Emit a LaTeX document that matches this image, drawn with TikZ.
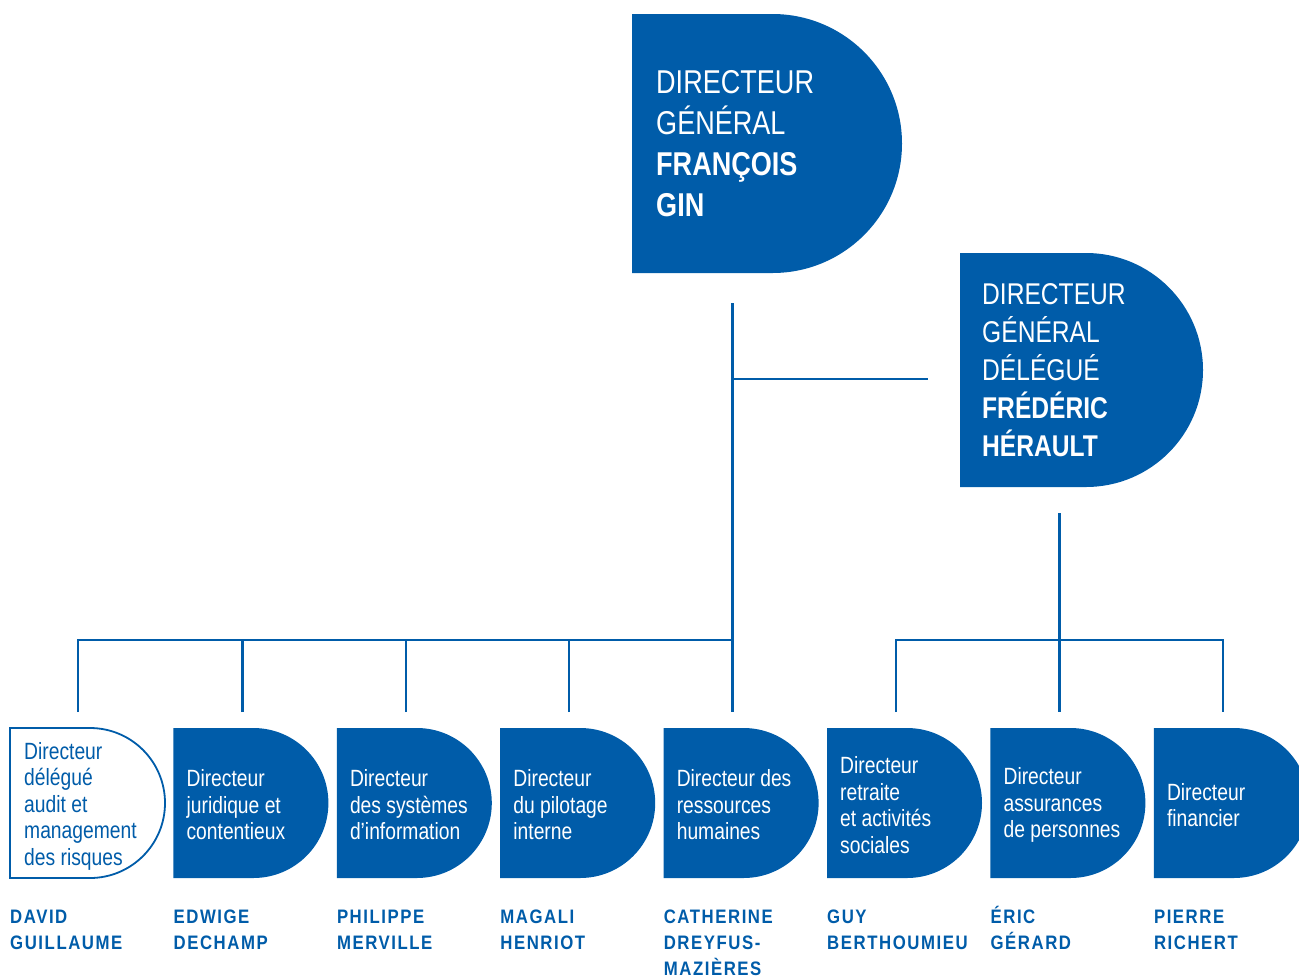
\documentclass[tikz,border=0pt]{standalone}
\usepackage{fontspec}
\setmainfont{Liberation Sans}[FakeStretch=0.82]
\newfontfamily\namefont{Liberation Sans}[FakeStretch=0.86,LetterSpace=8]
\usetikzlibrary{shapes.misc,positioning,calc}
\definecolor{orgblue}{RGB}{0,92,169}

\begin{document}
\begin{tikzpicture}[
    x=1pt, y=-1pt,
    dept/.style={rounded rectangle, rounded rectangle left arc=none, fill=orgblue, draw=none, inner sep=0pt, outer sep=0pt, minimum width=155pt, minimum height=150pt},
    hollow/.style={dept, fill=white, draw=orgblue, line width=1.8pt},
    role/.style={inner sep=0pt, align=left, text=white, font=\fontsize{23.5}{26.5}\selectfont},
    person/.style={inner sep=0pt, align=left, text=orgblue, anchor=base west, font=\namefont\bfseries\fontsize{19.5}{26}\selectfont},
    link/.style={draw=orgblue, line width=2.4pt}
]
\useasboundingbox (0,0) rectangle (1299,978);

% Direction generale
\node[dept, minimum width=270pt, minimum height=259pt, anchor=north west] (dg) at (632,14) {};
\node[role, font=\fontsize{33}{41}\selectfont, right=24pt of dg.west] (dgtxt) {DIRECTEUR\\GÉNÉRAL\\\textbf{FRANÇOIS}\\\textbf{GIN}};

\node[dept, minimum width=243pt, minimum height=234pt, anchor=north west] (dgd) at (960,253) {};
\node[role, font=\fontsize{30}{38}\selectfont, right=22pt of dgd.west] (dgdtxt) {DIRECTEUR\\GÉNÉRAL\\DÉLÉGUÉ\\\textbf{FRÉDÉRIC}\\\textbf{HÉRAULT}};

% Bottom row: directions
\node[hollow, anchor=north west] (b1) at (10,728) {};
\node[dept, right=8.4pt of b1] (b2) {};
\node[dept, right=8.4pt of b2] (b3) {};
\node[dept, right=8.4pt of b3] (b4) {};
\node[dept, right=8.4pt of b4] (b5) {};
\node[dept, right=8.4pt of b5] (b6) {};
\node[dept, right=8.4pt of b6] (b7) {};
\node[dept, right=8.4pt of b7] (b8) {};

\node[role, text=orgblue, right=14pt of b1.west, yshift=-3pt] (t1) {Directeur\\délégué\\audit et\\management\\des risques};
\node[role, right=13pt of b2.west, yshift=-2pt] (t2) {Directeur\\juridique et\\contentieux};
\node[role, right=13pt of b3.west, yshift=-2pt] (t3) {Directeur\\des systèmes\\d’information};
\node[role, right=13pt of b4.west, yshift=-2pt] (t4) {Directeur\\du pilotage\\interne};
\node[role, right=13pt of b5.west, yshift=-2pt] (t5) {Directeur des\\ressources\\humaines};
\node[role, right=13pt of b6.west, yshift=-2pt] (t6) {Directeur\\retraite\\et activités\\sociales};
\node[role, right=13pt of b7.west, yshift=-2pt] (t7) {Directeur\\assurances\\de personnes};
\node[role, right=13pt of b8.west, yshift=-2pt] (t8) {Directeur\\financier};

% Names under the boxes (anchored on the last line)
\node[person] (n1) at ($(b1.south west)+(0,71)$) {DAVID\\GUILLAUME};
\node[person] (n2) at ($(b2.south west)+(0,71)$) {EDWIGE\\DECHAMP};
\node[person] (n3) at ($(b3.south west)+(0,71)$) {PHILIPPE\\MERVILLE};
\node[person] (n4) at ($(b4.south west)+(0,71)$) {MAGALI\\HENRIOT};
\node[person] (n5) at ($(b5.south west)+(0,97)$) {CATHERINE\\DREYFUS-\\MAZIÈRES};
\node[person] (n6) at ($(b6.south west)+(0,71)$) {GUY\\BERTHOUMIEU};
\node[person] (n7) at ($(b7.south west)+(0,71)$) {ÉRIC\\GÉRARD};
\node[person] (n8) at ($(b8.south west)+(0,71)$) {PIERRE\\RICHERT};

% Link ends
\coordinate (d1) at ($(b1.north west)+(68,-16)$);
\coordinate (d2) at ($(b2.north west)+(69,-16)$);
\coordinate (d3) at ($(b3.north west)+(69,-16)$);
\coordinate (d4) at ($(b4.north west)+(69,-16)$);
\coordinate (d5) at ($(b5.north west)+(69,-16)$);
\coordinate (d6) at ($(b6.north west)+(69,-16)$);
\coordinate (d7) at ($(b7.north west)+(69,-16)$);
\coordinate (d8) at ($(b8.north west)+(69,-16)$);
\coordinate (trunk) at (d5 |- 0,303);
\coordinate (hub) at (d5 |- 0,379);
\coordinate (dgdin) at ($(dgd.north west |- hub)+(-32,0)$);
\coordinate (lbar) at (d5 |- 0,640);
\coordinate (dgdfoot) at (d7 |- 0,513);
\coordinate (rbar) at (d7 |- 0,640);

% Links
\draw[link] (trunk) -- (d5);
\draw[link] (hub) -- (dgdin);
\draw[link] (d1) |- (lbar);
\foreach \d in {d2,d3,d4} \draw[link] (\d) -- (\d |- lbar);
\draw[link] (dgdfoot) -- (d7);
\draw[link] (d6) |- (rbar) -| (d8);

\end{tikzpicture}
\end{document}
